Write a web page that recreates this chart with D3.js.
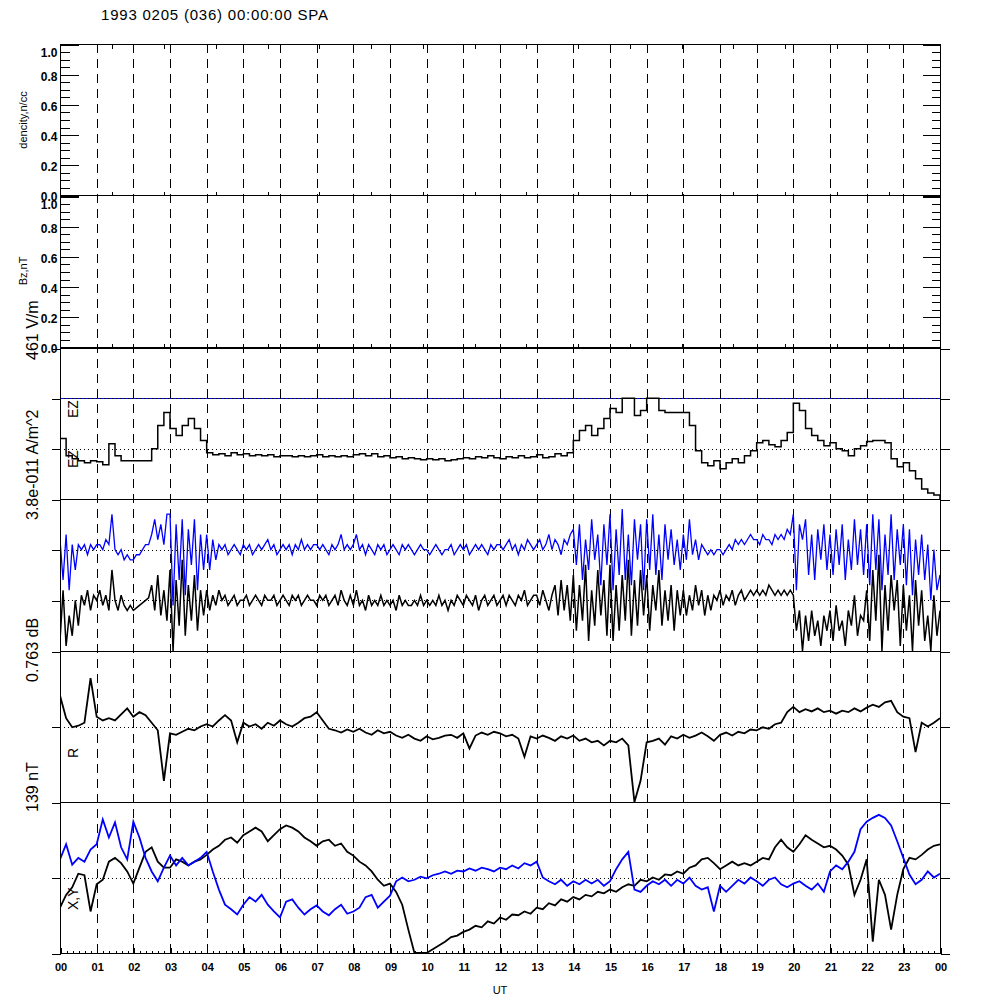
<!DOCTYPE html>
<html>
<head>
<meta charset="utf-8">
<script src="https://cdn.jsdelivr.net/npm/d3@7"></script>
<style>
  body { margin: 0; background: #fff; }
  svg { font-family: "Liberation Sans", Arial, sans-serif; }
</style>
</head>
<body>
<div id="chart"></div>
<script>
// hour labels along UT axis
const hourLabels = ["00","01","02","03","04","05","06","07","08","09","10","11",
  "12","13","14","15","16","17","18","19","20","21","22","23","00"];
const densityTicks = [0, 0.2, 0.4, 0.6, 0.8, 1.0];

// EZ trace, 10 min samples, in tick units
const ezTrace = [
  0.2,-0.14,-0.2,-0.24,-0.28,-0.24,-0.26,-0.32,0.1,-0.14,
  -0.24,-0.24,-0.24,-0.24,-0.24,0,0.46,0.72,0.4,0.26,
  0.46,0.6,0.4,0.16,-0.08,-0.12,-0.1,-0.14,-0.08,-0.12,
  -0.1,-0.14,-0.12,-0.14,-0.12,-0.16,-0.14,-0.14,-0.16,-0.14,
  -0.16,-0.14,-0.12,-0.16,-0.14,-0.16,-0.14,-0.16,-0.12,-0.1,
  -0.14,-0.1,-0.16,-0.14,-0.18,-0.16,-0.2,-0.18,-0.2,-0.22,
  -0.2,-0.22,-0.2,-0.24,-0.22,-0.2,-0.18,-0.2,-0.16,-0.18,
  -0.14,-0.18,-0.2,-0.16,-0.18,-0.14,-0.18,-0.16,-0.12,-0.18,
  -0.16,-0.1,-0.14,-0.08,0.16,0.36,0.46,0.26,0.4,0.6,
  0.8,0.72,1,1,0.66,0.76,1,1,0.76,0.72,
  0.72,0.72,0.72,0.46,-0.04,-0.28,-0.34,-0.24,-0.4,-0.28,
  -0.2,-0.28,-0.14,-0.04,0.12,0.16,0.08,0.04,0.16,0.32,
  0.9,0.76,0.4,0.26,0.16,0.06,0.12,0,-0.04,-0.14,
  0,0.06,0.14,0.16,0.16,0.12,-0.2,-0.36,-0.28,-0.44,
  -0.6,-0.8,-0.88,-0.92,-1.0
];

// wave power, 5 min samples, one row per hour
const waveBlue = [
  0.2,-0.6,0.3,-0.8,0.1,-0.4,0.1,0.0,0.1,-0.1,0.1,0.0,
  0.1,0.1,0.0,0.2,0.1,0.7,0.0,-0.1,0.0,-0.2,-0.1,-0.2,
  -0.2,-0.1,-0.1,0.0,0.1,0.1,0.3,0.6,0.2,0.5,0.1,0.7,
  0.7,-1.1,0.5,-0.6,0.6,-0.9,0.4,-0.3,0.6,-0.8,0.3,-0.4,
  0.3,-0.4,0.2,-0.2,0.1,0.0,0.1,-0.1,0.0,0.1,0.0,-0.1,
  0.1,0.0,0.1,-0.1,0.0,0.1,0.0,0.1,0.2,0.0,0.1,-0.1,
  0.0,0.1,0.0,0.1,-0.1,0.1,0.0,0.2,0.0,0.1,0.0,0.1,
  0.1,0.0,0.1,0.0,-0.1,0.1,0.0,0.1,0.3,0.0,0.1,0.0,
  0.1,0.3,0.0,0.1,-0.1,0.1,0.0,-0.1,0.1,0.0,0.1,-0.1,
  0.0,0.1,0.0,-0.1,0.1,0.0,0.1,0.0,-0.1,0.0,0.1,0.0,
  0.0,-0.1,0.0,0.1,0.0,-0.1,0.0,0.0,0.1,-0.1,0.0,0.1,
  0.0,0.1,-0.1,0.0,0.1,0.0,0.1,0.0,-0.1,0.1,0.0,0.1,
  0.1,0.0,0.1,0.2,0.0,0.1,-0.1,0.1,0.0,0.2,0.1,0.0,
  0.1,0.2,0.0,0.1,0.3,0.0,0.2,0.1,-0.1,0.2,0.1,0.3,
  0.4,-0.3,0.5,-0.6,0.2,-0.4,0.6,-0.2,0.3,-0.7,0.5,-0.3,
  0.7,-0.8,0.4,-0.5,0.8,-0.6,0.3,-0.7,0.6,-0.2,0.5,-0.8,
  0.6,-0.4,0.7,-0.5,0.3,-0.6,0.5,-0.2,0.4,-0.3,0.2,-0.4,
  0.3,-0.2,0.6,-0.1,0.2,-0.2,0.1,0.0,-0.1,0.0,-0.1,0.0,
  0.0,-0.1,0.0,0.1,0.0,0.2,0.1,0.2,0.1,0.2,0.3,0.2,
  0.2,0.1,0.3,0.2,0.2,0.1,0.3,0.2,0.3,0.2,0.4,0.3,
  0.7,-0.8,0.5,0.2,0.6,-0.5,0.3,-0.6,0.4,-0.2,0.5,-0.4,
  0.3,-0.5,0.4,-0.3,0.5,-0.6,0.2,-0.4,0.6,-0.3,0.4,-0.5,
  0.5,-0.7,0.7,-0.4,0.6,-0.8,0.3,-0.5,0.7,-0.6,0.4,-0.3,
  0.5,-0.7,0.4,-0.9,0.2,-0.5,0.3,-0.6,0.1,-1.0,0.0,-0.8,
  -0.5
];
const waveBlack = [
  -0.8,0.2,-0.9,-0.3,-0.7,0.0,-0.5,0.1,-0.1,0.2,-0.2,0.1,
  0.0,0.2,-0.1,0.1,-0.2,0.6,0.0,-0.2,0.1,-0.1,-0.2,-0.1,
  -0.2,-0.15,-0.1,-0.05,0.0,0.05,0.3,-0.2,0.5,-0.3,0.2,-0.4,
  0.6,-1.0,0.4,-0.5,0.8,-0.7,0.3,-0.4,0.5,-0.6,0.2,-0.3,
  0.2,-0.2,0.1,-0.1,0.2,0.0,0.1,-0.1,0.0,0.1,-0.1,0.0,
  0.0,0.1,-0.1,0.0,0.1,0.0,-0.1,0.1,0.0,0.0,0.1,-0.1,
  0.0,0.1,0.0,-0.1,0.1,0.0,0.1,-0.1,0.0,0.1,0.0,0.0,
  -0.1,0.1,0.0,0.1,-0.1,0.0,0.1,-0.1,0.2,0.0,-0.1,0.1,
  -0.1,0.2,-0.1,0.0,-0.2,0.1,-0.1,0.0,-0.1,0.1,-0.1,0.0,
  -0.1,0.0,-0.2,0.1,-0.1,0.0,-0.1,-0.1,0.0,-0.1,0.1,-0.1,
  0.0,-0.1,0.0,-0.1,0.1,-0.1,0.0,-0.2,0.0,-0.1,0.1,0.0,
  -0.1,0.1,0.0,-0.1,0.1,-0.2,0.0,0.1,-0.1,0.0,0.1,-0.1,
  0.0,0.1,-0.1,0.1,0.0,-0.1,0.1,0.0,0.2,-0.1,0.0,0.1,
  0.1,-0.1,0.2,0.0,-0.2,0.1,0.3,-0.3,0.4,-0.2,0.3,-0.4,
  0.5,-0.6,0.3,-0.4,0.7,-0.8,0.2,-0.5,0.6,-0.3,0.4,-0.7,
  0.7,-0.8,0.3,-0.6,0.5,-0.4,0.8,-0.7,0.4,-0.5,0.6,-0.3,
  0.5,-0.6,0.3,-0.2,0.6,-0.5,0.2,-0.4,0.3,-0.6,0.2,-0.3,
  0.2,-0.3,0.1,-0.2,0.3,-0.1,0.2,-0.3,0.1,-0.2,0.1,0.0,
  0.2,-0.1,0.1,0.0,0.2,-0.1,0.1,0.2,0.0,0.1,0.2,0.1,
  0.2,0.1,0.2,0.1,0.3,0.2,0.1,0.2,0.1,0.2,0.1,0.2,
  0.1,-0.6,-0.2,-1.0,-0.3,-0.8,-0.2,-0.7,-0.4,-0.9,-0.3,-0.6,
  -0.2,-0.8,-0.1,-0.6,-0.4,-0.9,-0.2,-0.5,0.1,-0.7,-0.3,-0.4,
  0.2,-0.8,0.6,-0.4,0.9,-1.0,0.3,-0.6,0.5,-0.2,0.4,-0.9,
  0.3,-0.6,0.1,-1.0,0.4,-0.5,0.2,-0.8,-0.3,-1.0,0.1,-0.7,
  -0.2
];

// R field, 10 min samples
const rTrace = [
  0.41,0.11,-0.01,0.01,0.05,0.64,0.13,0.08,0.11,0.08,
  0.16,0.24,0.13,0.19,0.15,0.05,-0.05,-0.72,-0.09,-0.11,
  -0.07,-0.03,-0.05,0,0.03,0,0.08,0.15,0.08,-0.21,
  0.05,0,0.03,-0.03,0.05,0.01,0.08,0.03,0,0.05,
  0.11,0.13,0.19,0.08,-0.03,-0.05,-0.08,-0.04,-0.07,-0.03,
  -0.08,-0.11,-0.05,-0.09,-0.07,-0.12,-0.15,-0.11,-0.16,-0.19,
  -0.13,-0.17,-0.15,-0.12,-0.11,-0.15,-0.09,-0.29,-0.12,-0.08,
  -0.11,-0.07,-0.09,-0.13,-0.11,-0.16,-0.4,-0.13,-0.16,-0.12,
  -0.15,-0.19,-0.13,-0.16,-0.12,-0.19,-0.16,-0.21,-0.19,-0.25,
  -0.19,-0.21,-0.16,-0.25,-1.0,-0.72,-0.21,-0.19,-0.16,-0.24,
  -0.13,-0.16,-0.11,-0.15,-0.12,-0.08,-0.13,-0.19,-0.11,-0.08,
  -0.12,-0.07,-0.09,-0.04,-0.05,-0.01,-0.03,0.03,0.05,0.19,
  0.26,0.19,0.23,0.2,0.24,0.19,0.21,0.17,0.21,0.19,
  0.24,0.2,0.25,0.29,0.26,0.32,0.34,0.19,0.13,0.11,
  -0.34,0.05,0,0.05,0.11
];

// X (black) and Y (blue) fields, 10 min samples
const xTrace = [
  -0.4,-0.23,-0.13,0.05,0.03,-0.45,-0.09,-0.03,0.21,0.26,
  0.19,0.08,-0.08,0.13,0.34,0.4,0.21,0.13,0.13,0.24,
  0.21,0.16,0.21,0.24,0.3,0.37,0.42,0.5,0.53,0.46,
  0.56,0.61,0.66,0.61,0.48,0.56,0.64,0.69,0.66,0.61,
  0.53,0.48,0.42,0.48,0.5,0.42,0.45,0.34,0.29,0.21,
  0.16,0.08,-0.03,-0.11,-0.08,-0.19,-0.36,-0.69,-1,-1,
  -1,-0.95,-0.9,-0.85,-0.79,-0.77,-0.72,-0.69,-0.64,-0.66,
  -0.58,-0.61,-0.53,-0.56,-0.49,-0.5,-0.45,-0.48,-0.4,-0.42,
  -0.34,-0.37,-0.29,-0.32,-0.26,-0.29,-0.23,-0.25,-0.19,-0.21,
  -0.16,-0.19,-0.13,-0.09,-0.11,-0.03,-0.05,0,-0.03,0.04,
  0.03,0.08,0.05,0.13,0.16,0.24,0.26,0.19,0.11,0.16,
  0.21,0.16,0.19,0.16,0.21,0.26,0.24,0.4,0.5,0.4,
  0.34,0.44,0.56,0.5,0.45,0.4,0.42,0.37,0.29,0.17,
  -0.23,-0.03,0.24,-0.85,-0.03,-0.23,-0.69,-0.23,0.11,0.26,
  0.24,0.3,0.37,0.42,0.44
];
const yTrace = [
  0.24,0.44,0.17,0.26,0.21,0.37,0.44,0.77,0.53,0.73,
  0.4,0.24,0.74,0.53,0.26,0.08,-0.05,0.13,0.29,0.16,
  0.26,0.16,0.21,0.26,0.34,0.08,-0.16,-0.36,-0.42,-0.49,
  -0.36,-0.26,-0.32,-0.23,-0.36,-0.45,-0.53,-0.32,-0.29,-0.4,
  -0.49,-0.42,-0.37,-0.45,-0.5,-0.42,-0.36,-0.48,-0.45,-0.4,
  -0.26,-0.23,-0.4,-0.32,-0.24,-0.05,0,-0.05,-0.03,0.01,
  -0.01,0.03,0.05,0.08,0.05,0.09,0.08,0.12,0.09,0.13,
  0.11,0.08,0.13,0.11,0.16,0.12,0.19,0.16,0.21,0,
  -0.05,-0.09,-0.03,-0.11,-0.05,-0.09,-0.03,-0.08,-0.03,-0.11,
  -0.05,0.11,0.24,0.34,-0.16,-0.19,-0.11,-0.05,-0.09,-0.03,
  -0.11,-0.03,-0.08,0,-0.11,-0.16,-0.13,-0.45,-0.11,-0.19,
  -0.11,-0.03,-0.08,0,-0.05,-0.11,-0.03,0,-0.09,-0.13,
  -0.08,-0.05,-0.11,-0.16,-0.08,-0.19,0.08,0.16,0.11,0.21,
  0.34,0.64,0.74,0.79,0.83,0.79,0.69,0.48,0.26,0.04,
  -0.09,-0.03,0.08,0,0.05
];

const svg = d3.select("#chart").append("svg")
  .attr("width", 1000)
  .attr("height", 1000);

const x = d3.scaleLinear().domain([0, 24]).range([60, 940]);

const panels = [
  { top: 44, bottom: 195 },
  { top: 195, bottom: 348 },
  { top: 348, bottom: 499 },
  { top: 499, bottom: 651 },
  { top: 651, bottom: 802 },
  { top: 802, bottom: 953 }
];
const y1 = d3.scaleLinear().domain([0, 1]).range([195, 44]);
const y2 = d3.scaleLinear().domain([0, 1]).range([347, 196]);
const y3 = d3.scaleLinear().domain([-1, 2]).range([499, 348]);
const y4 = d3.scaleLinear().domain([-1, 2]).range([651, 499]);
const y5 = d3.scaleLinear().domain([-1, 1]).range([802, 651]);
const y6 = d3.scaleLinear().domain([-1, 1]).range([953, 802]);

const t10 = i => i / 6;   // 10 minute samples -> hours
const t5 = i => i / 12;   // 5 minute samples -> hours

// clip paths
const defs = svg.append("defs");
panels.forEach((p, i) => {
  defs.append("clipPath").attr("id", "clip" + i)
    .append("rect")
    .attr("x", 60).attr("y", p.top)
    .attr("width", 880).attr("height", p.bottom - p.top);
});

// hour dashed lines
svg.append("g")
  .selectAll("line")
  .data(d3.range(1, 24))
  .join("line")
  .attr("x1", d => Math.round(x(d)) + 0.5)
  .attr("x2", d => Math.round(x(d)) + 0.5)
  .attr("y1", 44)
  .attr("y2", 953)
  .attr("stroke", "#000")
  .attr("stroke-dasharray", "9,6")
  .attr("shape-rendering", "crispEdges");

// dotted baselines
function dotted(y, v, color) {
  svg.append("line")
    .attr("x1", 60).attr("x2", 940)
    .attr("y1", Math.round(y(v)) + 0.5).attr("y2", Math.round(y(v)) + 0.5)
    .attr("stroke", color)
    .attr("stroke-dasharray", color === "#000" ? "1,3" : null)
    .attr("shape-rendering", "crispEdges");
}
dotted(y3, 1, "#00f");
dotted(y3, 1, "#000");
dotted(y3, 0, "#000");
dotted(y4, 1, "#000");
dotted(y4, 0, "#000");
dotted(y5, 0, "#000");
dotted(y6, 0, "#000");

// traces
function trace(values, t, y, offset, color, clip, curve, w) {
  const line = d3.line()
    .x((d, i) => x(t(i)))
    .y(d => y(d + offset))
    .curve(curve || d3.curveLinear);
  svg.append("path")
    .datum(values)
    .attr("clip-path", `url(#clip${clip})`)
    .attr("fill", "none")
    .attr("stroke", color)
    .attr("stroke-width", w || 1.5)
    .attr("d", line);
}
trace(ezTrace, t10, y3, 0, "#000", 2, d3.curveStepAfter, 1.5);
trace(waveBlue, t5, y4, 1, "#00f", 3, null, 1.3);
trace(waveBlack, t5, y4, 0, "#000", 3, null, 1.5);
trace(rTrace, t10, y5, 0, "#000", 4, null, 1.8);
trace(xTrace, t10, y6, 0, "#000", 5, null, 1.8);
trace(yTrace, t10, y6, 0, "#00f", 5, null, 1.8);

// panel frames
panels.forEach(p => {
  svg.append("rect")
    .attr("x", 60.5).attr("y", p.top + 0.5)
    .attr("width", 880).attr("height", p.bottom - p.top)
    .attr("fill", "none")
    .attr("stroke", "#000")
    .attr("shape-rendering", "crispEdges");
});
svg.append("line")
  .attr("x1", 60).attr("x2", 940)
  .attr("y1", 348).attr("y2", 348)
  .attr("stroke", "#000").attr("stroke-width", 2)
  .attr("shape-rendering", "crispEdges");

function clean(g) {
  g.select(".domain").remove();
  g.selectAll("line").attr("shape-rendering", "crispEdges");
}

// value axes for the two empty top panels
[y1, y2].forEach(y => {
  const left = svg.append("g")
    .attr("transform", "translate(60.5,0.5)")
    .call(d3.axisLeft(y).tickValues(densityTicks).tickSize(-18).tickPadding(3)
      .tickFormat(d3.format(".1f")))
    .call(clean);
  left.selectAll("text")
    .style("font-size", "12px")
    .style("font-weight", "bold")
    .attr("dy", d => d === 1 ? "1.0em" : "0.45em");
  svg.append("g")
    .attr("transform", "translate(60.5,0.5)")
    .call(d3.axisLeft(y).tickValues(d3.range(0, 1.001, 0.05)).tickSize(-9).tickFormat(""))
    .call(clean);
  svg.append("g")
    .attr("transform", "translate(940.5,0.5)")
    .call(d3.axisRight(y).tickValues(densityTicks).tickSize(-18).tickFormat(""))
    .call(clean);
  svg.append("g")
    .attr("transform", "translate(940.5,0.5)")
    .call(d3.axisRight(y).tickValues(d3.range(0, 1.001, 0.05)).tickSize(-9).tickFormat(""))
    .call(clean);
});

// small time ticks on the top panels
const smallTicks = d3.range(1, 17).map(i => i * 24 / 17);
svg.append("g").attr("transform", "translate(0.5,44.5)")
  .call(d3.axisTop(x).tickValues(smallTicks).tickSize(-4).tickFormat("")).call(clean);
svg.append("g").attr("transform", "translate(0.5,195.5)")
  .call(d3.axisBottom(x).tickValues(smallTicks).tickSize(-4).tickFormat("")).call(clean);
svg.append("g").attr("transform", "translate(0.5,347.5)")
  .call(d3.axisBottom(x).tickValues(smallTicks).tickSize(-4).tickFormat("")).call(clean);

// outward ticks on the trace panels
[[y3, [-1, 0, 1, 2]], [y4, [-1, 0, 1, 2]], [y5, [-1, 0, 1]], [y6, [-1, 0, 1]]].forEach(([y, tv]) => {
  svg.append("g").attr("transform", "translate(60.5,0.5)")
    .call(d3.axisLeft(y).tickValues(tv).tickSize(9).tickFormat("")).call(clean);
  svg.append("g").attr("transform", "translate(940.5,0.5)")
    .call(d3.axisRight(y).tickValues(tv).tickSize(9).tickFormat("")).call(clean);
});

// UT axis
const xAxis = svg.append("g")
  .attr("transform", "translate(0.5,953.5)")
  .call(d3.axisBottom(x).tickValues(d3.range(0, 25)).tickSize(-6).tickPadding(10)
    .tickFormat((d, i) => hourLabels[i]))
  .call(clean);
xAxis.selectAll("text").style("font-size", "11px").style("font-weight", "bold");
svg.append("g")
  .attr("transform", "translate(0.5,953.5)")
  .call(d3.axisBottom(x).tickValues(d3.range(0, 24.001, 1 / 6)).tickSize(-3).tickFormat(""))
  .call(clean);

svg.append("text")
  .attr("x", 500).attr("y", 994)
  .attr("text-anchor", "middle")
  .style("font-size", "11px")
  .text("UT");

// title
svg.append("text")
  .attr("x", 101).attr("y", 20)
  .style("font-size", "15px")
  .attr("textLength", 227)
  .text("1993 0205 (036) 00:00:00 SPA");

// rotated labels
function vlabel(text, xb, y, size, anchor) {
  svg.append("text")
    .attr("transform", `translate(${xb},${y}) rotate(-90)`)
    .attr("text-anchor", anchor)
    .style("font-size", size + "px")
    .text(text);
}
vlabel("dencity,n/cc", 27, 120, 11, "middle");
vlabel("Bz,nT", 27, 271, 11, "middle");
vlabel("461 V/m", 38, 360, 16, "start");
vlabel("3.8e-011 A/m^2", 38, 520, 16, "start");
vlabel("0.763 dB", 38, 682, 16, "start");
vlabel("139 nT", 38, 812, 16, "start");
vlabel("EZ", 78, 418, 14, "start");
vlabel("EZ", 78, 468, 14, "start");
vlabel("R", 78, 758, 14, "start");
vlabel("X,Y", 78, 910, 14, "start");
</script>
</body>
</html>
